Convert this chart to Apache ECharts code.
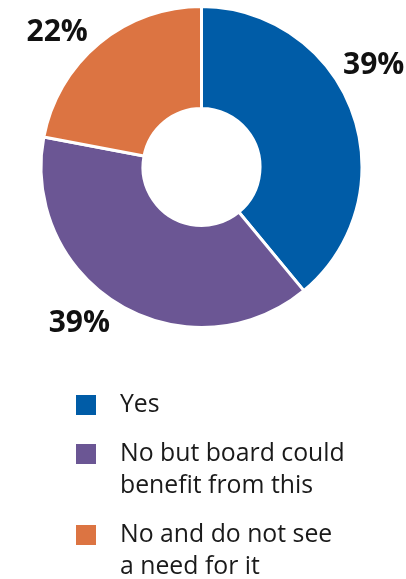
<!DOCTYPE html>
<html>
<head>
<meta charset="utf-8">
<script src="https://cdn.jsdelivr.net/npm/echarts@6/dist/echarts.min.js"></script>
<style>
html,body{margin:0;padding:0;background:#fff;}
#chart{width:406px;height:579px;}
</style>
</head>
<body>
<div id="chart"></div>
<script>
const categories = ['Yes', 'No but board could benefit from this', 'No and do not see a need for it'];
const legendLabels = ['Yes', 'No but board could\nbenefit from this', 'No and do not see\na need for it'];
const values = [39, 39, 22];

const colors = ['#005CA7', '#6B5694', '#DC7442'];
const labelShift = [[-14.5, -47], [-4.8, 18.8], [-6.3, -11.3]];

const chart = echarts.init(document.getElementById('chart'), null, {renderer: 'canvas'});
const fontFamily = '"Open Sans", "Noto Sans", sans-serif';

chart.setOption({
  animation: false,
  backgroundColor: '#ffffff',
  color: colors,
  legend: {
    orient: 'vertical',
    left: 74,
    top: 389,
    height: 300,
    padding: 0,
    itemWidth: 22,
    itemHeight: 22,
    itemGap: -15,
    icon: 'rect',
    selectedMode: false,
    data: categories,
    formatter: function (name) {
      const t = legendLabels[categories.indexOf(name)];
      return t.indexOf('\n') >= 0 ? '\n' + t : t;
    },
    textStyle: {
      fontFamily: fontFamily,
      fontSize: 24.8,
      lineHeight: 32,
      color: '#1a1a1a',
      padding: [0, 0, 0, 18]
    }
  },
  series: [{
    type: 'pie',
    center: [201.5, 167],
    radius: [58.5, 160.5],
    startAngle: 90,
    clockwise: true,
    silent: true,
    itemStyle: {borderColor: '#ffffff', borderWidth: 3},
    label: {
      show: true,
      position: 'outside',
      formatter: '{c}%',
      fontFamily: fontFamily,
      fontWeight: 'bold',
      fontSize: 30,
      width: 80,
      overflow: 'none',
      color: '#111111'
    },
    labelLine: {show: false, length: 0, length2: 0},
    labelLayout: function (params) {
      const s = labelShift[params.dataIndex];
      return {dx: s[0], dy: s[1]};
    },
    data: categories.map(function (c, i) { return {name: c, value: values[i]}; })
  }]
});
</script>
</body>
</html>
